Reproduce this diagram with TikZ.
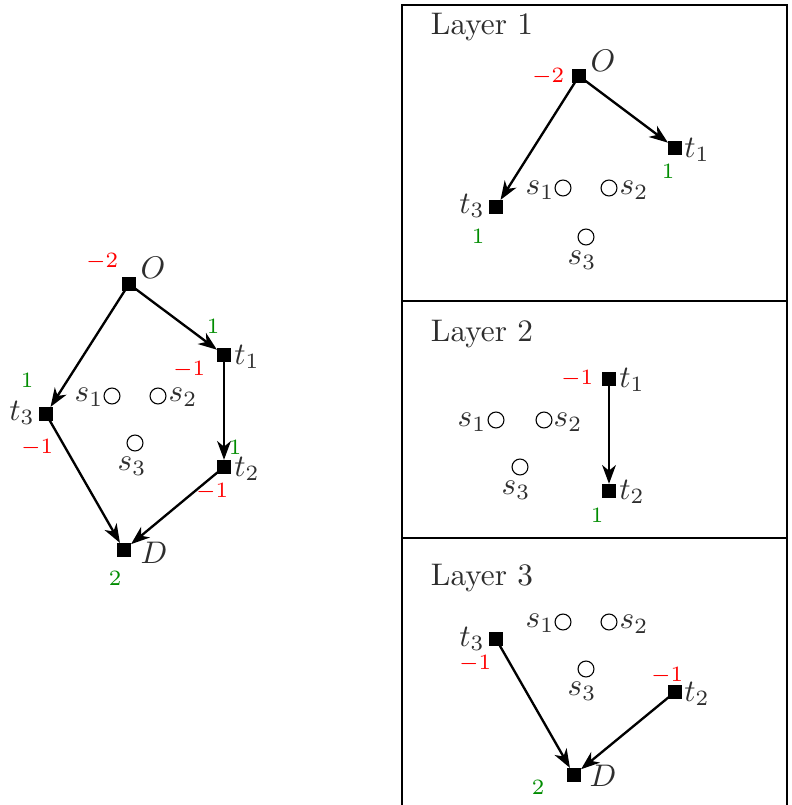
\documentclass[tikz,border=0pt]{standalone}
\usetikzlibrary{arrows.meta}
\definecolor{numred}{RGB}{255,0,0}
\definecolor{numgreen}{RGB}{0,140,0}
\tikzset{
  sq/.style={fill=black,minimum size=4.2pt,inner sep=0pt,outer sep=0pt},
  ci/.style={draw=black,circle,minimum size=5.1pt,inner sep=0pt,line width=0.35pt},
  lab/.style={text=black!82,inner sep=0pt},
  rnum/.style={text=numred,font=\scriptsize,inner sep=0pt},
  gnum/.style={text=numgreen,font=\scriptsize,inner sep=0pt},
  ttl/.style={text=black!82,inner sep=0pt},
  edge/.style={line width=0.75pt,-{Stealth[length=6pt,width=4.4pt,inset=1.8pt]},shorten >=0.2pt}
}
\begin{document}
\begin{tikzpicture}[x=0.32pt,y=-0.32pt]
\useasboundingbox (0,0) rectangle (791,805);
% ---------- left graph ----------
\node[sq] (O) at (129,284) {};
\node[sq] (t1) at (224,355) {};
\node[sq] (t3) at (46,414) {};
\node[sq] (t2) at (224,467) {};
\node[sq] (D) at (124,550) {};
\node[ci] (s1) at (112,396) {};
\node[ci] (s2) at (158,396) {};
\node[ci] (s3) at (135,443) {};
\node[lab] (lO) at (153,268) {$O$};
\node[lab] (lt1) at (247,357) {$t_1$};
\node[lab] (lt3) at (22,413) {$t_3$};
\node[lab] (lt2) at (247,469) {$t_2$};
\node[lab] (lD) at (154,553) {$D$};
\node[lab] (ls1) at (89,397) {$s_1$};
\node[lab] (ls2) at (183,397) {$s_2$};
\node[lab] (ls3) at (132,466) {$s_3$};
\node[rnum] (nO) at (102,262) {$-2$};
\node[gnum] (gt1) at (213,326) {1};
\node[rnum] (rt1) at (189,370) {$-1$};
\node[gnum] (gt3) at (27,380) {1};
\node[rnum] (rt3) at (37,448) {$-1$};
\node[gnum] (gt2) at (235,447) {1};
\node[rnum] (rt2) at (212,492) {$-1$};
\node[gnum] (gD) at (115,578) {2};
\draw[edge] (O) -- (t1);
\draw[edge] (O) -- (t3);
\draw[edge] (t1) -- (t2);
\draw[edge] (t3) -- (D);
\draw[edge] (t2) -- (D);
% ---------- frame ----------
\coordinate (f1) at (402,810);
\coordinate (f2) at (402,5);
\coordinate (f3) at (787,5);
\coordinate (f4) at (787,810);
\coordinate (d1) at (402,301);
\coordinate (d2) at (787,301);
\coordinate (d3) at (402,538);
\coordinate (d4) at (787,538);
\draw[line width=0.45pt] (f1) -- (f2) -- (f3) -- (f4);
\draw[line width=0.45pt] (d1) -- (d2);
\draw[line width=0.45pt] (d3) -- (d4);
% ---------- layer 1 ----------
\node[ttl] (L1) at (482,27) {Layer 1};
\node[sq] (aO) at (579,76) {};
\node[sq] (at1) at (675,148) {};
\node[sq] (at3) at (496,207) {};
\node[ci] (as1) at (563,188) {};
\node[ci] (as2) at (609,188) {};
\node[ci] (as3) at (586,237) {};
\node[lab] (alO) at (603,61) {$O$};
\node[lab] (alt1) at (697,150) {$t_1$};
\node[lab] (alt3) at (472,206) {$t_3$};
\node[lab] (als1) at (540,190) {$s_1$};
\node[lab] (als2) at (634,190) {$s_2$};
\node[lab] (als3) at (582,260) {$s_3$};
\node[rnum] (anO) at (548,77) {$-2$};
\node[gnum] (agt1) at (668,171) {1};
\node[gnum] (agt3) at (478,236) {1};
\draw[edge] (aO) -- (at1);
\draw[edge] (aO) -- (at3);
% ---------- layer 2 ----------
\node[ttl] (L2) at (482,334) {Layer 2};
\node[sq] (bt1) at (609,379) {};
\node[sq] (bt2) at (609,491) {};
\node[ci] (bs1) at (496,420) {};
\node[ci] (bs2) at (544,420) {};
\node[ci] (bs3) at (520,467) {};
\node[lab] (blt1) at (632,380) {$t_1$};
\node[lab] (blt2) at (632,492) {$t_2$};
\node[lab] (bls1) at (472,422) {$s_1$};
\node[lab] (bls2) at (568,422) {$s_2$};
\node[lab] (bls3) at (516,490) {$s_3$};
\node[rnum] (brt1) at (577,379) {$-1$};
\node[gnum] (bgt2) at (597,515) {1};
\draw[edge] (bt1) -- (bt2);
% ---------- layer 3 ----------
\node[ttl] (L3) at (482,578) {Layer 3};
\node[sq] (ct3) at (496,639) {};
\node[sq] (ct2) at (675,692) {};
\node[sq] (cD) at (574,775) {};
\node[ci] (cs1) at (563,622) {};
\node[ci] (cs2) at (609,622) {};
\node[ci] (cs3) at (586,669) {};
\node[lab] (clt3) at (472,639) {$t_3$};
\node[lab] (clt2) at (697,694) {$t_2$};
\node[lab] (clD) at (603,776) {$D$};
\node[lab] (cls1) at (540,623) {$s_1$};
\node[lab] (cls2) at (634,624) {$s_2$};
\node[lab] (cls3) at (582,691) {$s_3$};
\node[rnum] (crt3) at (475,664) {$-1$};
\node[rnum] (crt2) at (667,676) {$-1$};
\node[gnum] (cgD) at (538,787) {2};
\draw[edge] (ct3) -- (cD);
\draw[edge] (ct2) -- (cD);
\end{tikzpicture}
\end{document}
